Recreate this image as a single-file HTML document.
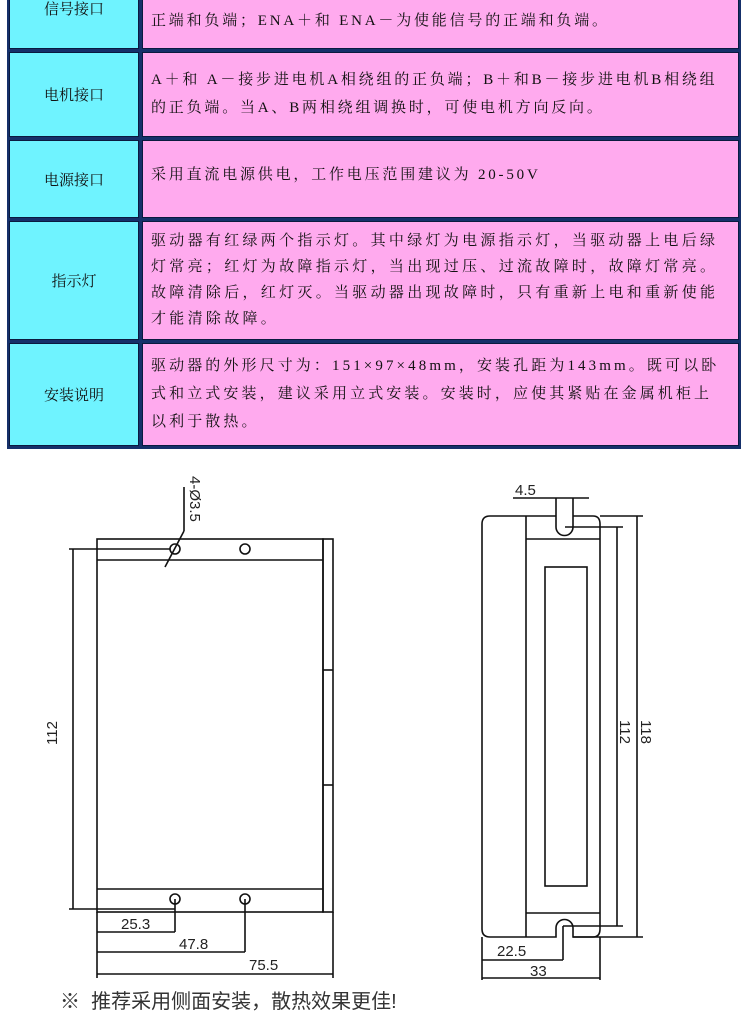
<!DOCTYPE html>
<html><head><meta charset="utf-8"><style>
body{margin:0;width:750px;height:1027px;background:#fff;position:relative;overflow:hidden;font-family:"Liberation Serif","Noto Serif CJK SC",serif}
.tb{position:absolute;left:7px;top:-2px;width:734px;height:451px;background:#15306a}
.c{position:absolute;box-sizing:border-box;border:1px solid #0a1a40}
.l{background:#6ff3ff;left:9px;width:130px;display:flex;align-items:center;justify-content:center;font-size:15px;color:#111}
.r{background:#ffaaee;left:142px;width:597px;font-size:15px;letter-spacing:2.8px;color:#111;padding:6px 8px 0 8px;white-space:nowrap;overflow:hidden}
</style></head><body>
<div class="tb"></div>
<div class="c l" style="top:-32px;height:81px">信号接口</div>
<div class="c r" style="top:-10px;height:59px;line-height:28px;padding-top:16px">正端和负端；ENA＋和 ENA－为使能信号的正端和负端。</div>
<div class="c l" style="top:52px;height:85px">电机接口</div>
<div class="c r" style="top:52px;height:85px;line-height:28px;padding-top:13px">A＋和 A－接步进电机A相绕组的正负端；B＋和B－接步进电机B相绕组<br>的正负端。当A、B两相绕组调换时，可使电机方向反向。</div>
<div class="c l" style="top:140px;height:78px">电源接口</div>
<div class="c r" style="top:140px;height:78px;padding-top:22px">采用直流电源供电，工作电压范围建议为 20-50V</div>
<div class="c l" style="top:221px;height:119px">指示灯</div>
<div class="c r" style="top:221px;height:119px;line-height:26px;padding-top:6px;letter-spacing:3.3px;font-size:15px">驱动器有红绿两个指示灯。其中绿灯为电源指示灯，当驱动器上电后绿<br>灯常亮；红灯为故障指示灯，当出现过压、过流故障时，故障灯常亮。<br>故障清除后，红灯灭。当驱动器出现故障时，只有重新上电和重新使能<br>才能清除故障。</div>
<div class="c l" style="top:343px;height:103px">安装说明</div>
<div class="c r" style="top:343px;height:103px;line-height:28px;padding-top:8px;letter-spacing:3.1px">驱动器的外形尺寸为：151×97×48mm，安装孔距为143mm。既可以卧<br>式和立式安装，建议采用立式安装。安装时，应使其紧贴在金属机柜上<br>以利于散热。</div>

<svg style="position:absolute;left:0;top:0" width="750" height="1027" fill="none" stroke="#111" stroke-width="1.6" font-family="Liberation Sans, sans-serif">
<rect x="97" y="539" width="226" height="373"/>
<line x1="97" y1="560" x2="323" y2="560"/>
<line x1="97" y1="889" x2="323" y2="889"/>
<rect x="323" y="539" width="10" height="373"/>
<line x1="323" y1="670" x2="333" y2="670"/><line x1="323" y1="785" x2="333" y2="785"/>
<circle cx="175" cy="549" r="5"/><circle cx="245" cy="549" r="5"/>
<circle cx="175" cy="899" r="5"/><circle cx="245" cy="899" r="5"/>
<line x1="165" y1="567" x2="184" y2="531"/><line x1="184" y1="531" x2="184" y2="487"/>
<line x1="69" y1="549" x2="170" y2="549"/><line x1="69" y1="909" x2="175" y2="909"/>
<line x1="73" y1="549" x2="73" y2="909"/>
<line x1="175" y1="899" x2="175" y2="932"/><line x1="97" y1="932" x2="175" y2="932"/>
<line x1="245" y1="899" x2="245" y2="952"/><line x1="97" y1="952" x2="245" y2="952"/>
<line x1="97" y1="912" x2="97" y2="978"/><line x1="333" y1="912" x2="333" y2="978"/><line x1="97" y1="974" x2="333" y2="974"/>
<g fill="#222" stroke="none" font-size="15">
<text x="121" y="929">25.3</text><text x="179" y="949">47.8</text><text x="249" y="970">75.5</text>
<text transform="translate(57,745) rotate(-90)">112</text>
<text transform="translate(190,476) rotate(90)">4-Ø3.5</text>
</g>
<path d="M482 929 V524 Q482 516 490 516 H556 M573 516 H593 Q600 516 600 524 V929 Q600 937 593 937 H573 V928 A8.5 8.5 0 0 0 556 928 V937 H490 Q482 937 482 929"/>
<path d="M556 498 V527 A8.5 8.5 0 0 0 573 527 V498"/>
<line x1="526" y1="516" x2="526" y2="937"/>
<line x1="526" y1="539" x2="600" y2="539"/>
<line x1="526" y1="913" x2="600" y2="913"/>
<rect x="545" y="567" width="42" height="319"/>
<line x1="513" y1="498" x2="589" y2="498"/>
<line x1="565" y1="527" x2="623" y2="527"/><line x1="617" y1="527" x2="617" y2="926"/><line x1="563" y1="926" x2="623" y2="926"/>
<line x1="600" y1="516" x2="643" y2="516"/><line x1="637" y1="516" x2="637" y2="937"/><line x1="573" y1="937" x2="643" y2="937"/>
<line x1="482" y1="937" x2="482" y2="980"/><line x1="600" y1="937" x2="600" y2="980"/>
<line x1="563" y1="926" x2="563" y2="960"/><line x1="482" y1="960" x2="563" y2="960"/>
<line x1="482" y1="978" x2="600" y2="978"/>
<g fill="#222" stroke="none" font-size="15">
<text x="515" y="495">4.5</text><text x="497" y="956">22.5</text><text x="530" y="976">33</text>
<text transform="translate(620,720) rotate(90)">112</text>
<text transform="translate(641,720) rotate(90)">118</text>
</g>
</svg>
<div style="position:absolute;left:60px;top:985px;font-size:20px;color:#333;font-family:'Liberation Sans','Noto Sans CJK SC',sans-serif">※&nbsp; 推荐采用侧面安装，散热效果更佳!</div>
</body></html>
